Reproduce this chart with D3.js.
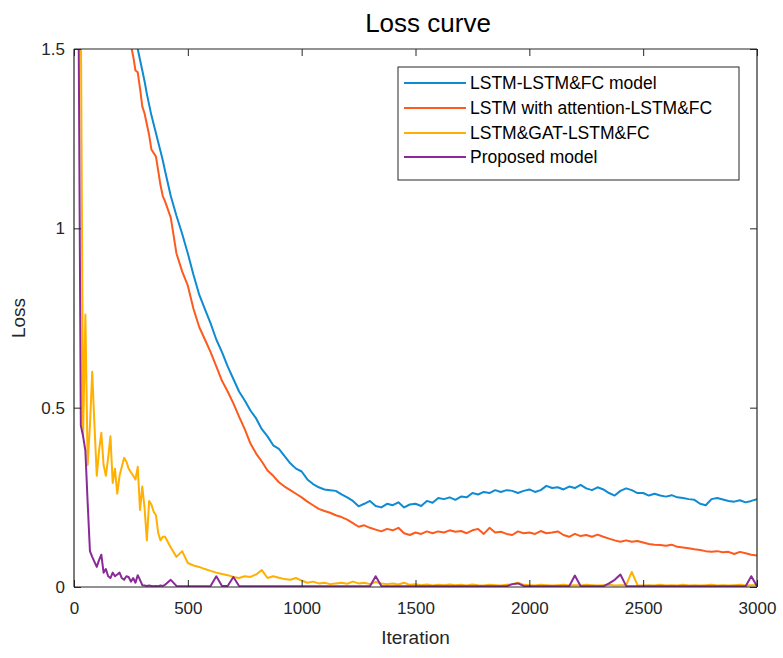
<!DOCTYPE html>
<html>
<head>
<meta charset="utf-8">
<script src="https://cdn.jsdelivr.net/npm/d3@7"></script>
<style>
  html, body { margin: 0; padding: 0; background: #fff; }
  svg { display: block; font-family: "Liberation Sans", Arial, Helvetica, sans-serif; }
</style>
</head>
<body>
<svg id="chart" width="783" height="658"></svg>
<script>
const iterations = [
  0,10,20,30,40,50,60,70,80,90,100,110,120,130,140,150,160,170,180,190,
  200,210,220,230,240,250,260,270,280,290,300,310,320,330,340,350,360,370,380,390,400,
  425,450,475,500,525,550,575,600,625,650,
  675,700,725,750,775,800,825,850,875,900,
  925,950,975,1000,1025,1050,1075,1100,1125,1150,
  1175,1200,1225,1250,1275,1300,1325,1350,1375,1400,
  1425,1450,1475,1500,1525,1550,1575,1600,1625,1650,
  1675,1700,1725,1750,1775,1800,1825,1850,1875,1900,
  1925,1950,1975,2000,2025,2050,2075,2100,2125,2150,
  2175,2200,2225,2250,2275,2300,2325,2350,2375,2400,
  2425,2450,2475,2500,2525,2550,2575,2600,2625,2650,
  2675,2700,2725,2750,2775,2800,2825,2850,2875,2900,
  2925,2950,2975,3000
];

const lossLSTM = [
  2.25,2.22,2.20,2.17,2.14,2.11,2.08,2.06,2.03,2.00,
  1.97,1.94,1.91,1.88,1.85,1.82,1.79,1.76,1.73,1.71,
  1.68,1.66,1.63,1.61,1.58,1.56,1.54,1.52,1.50,1.47,
  1.44,1.41,1.375,1.345,1.315,1.29,1.265,1.24,1.215,1.19,
  1.16,
  1.09,1.035,0.985,0.93,0.87,0.815,0.775,0.735,0.69,0.655,
  0.615,0.58,0.545,0.52,0.492,0.47,0.44,0.42,0.395,0.385,
  0.365,0.345,0.33,0.322,0.30,0.287,0.278,0.272,0.27,0.268,
  0.258,0.25,0.24,0.225,0.232,0.24,0.226,0.222,0.232,0.228,
  0.236,0.222,0.23,0.232,0.226,0.24,0.235,0.248,0.245,0.25,
  0.243,0.252,0.25,0.262,0.258,0.265,0.262,0.27,0.265,0.27,
  0.268,0.262,0.268,0.272,0.265,0.27,0.282,0.276,0.278,0.272,
  0.28,0.276,0.285,0.275,0.27,0.278,0.272,0.262,0.255,0.268,
  0.275,0.27,0.262,0.262,0.255,0.26,0.255,0.252,0.256,0.25,
  0.248,0.245,0.243,0.232,0.228,0.245,0.248,0.244,0.24,0.238,
  0.242,0.236,0.24,0.245
];

const lossAttention = [
  2.10,2.07,2.04,2.01,1.98,1.95,1.92,1.89,1.86,1.83,
  1.80,1.78,1.75,1.72,1.70,1.67,1.65,1.63,1.61,1.59,
  1.58,1.57,1.56,1.54,1.53,1.51,1.48,1.44,1.435,1.39,
  1.34,1.32,1.29,1.26,1.22,1.21,1.20,1.16,1.12,1.09,
  1.075,
  1.03,0.93,0.88,0.84,0.775,0.725,0.69,0.655,0.615,0.575,
  0.545,0.512,0.475,0.44,0.40,0.372,0.35,0.325,0.31,0.292,
  0.28,0.27,0.26,0.25,0.238,0.228,0.218,0.212,0.207,0.2,
  0.195,0.188,0.178,0.168,0.172,0.165,0.16,0.155,0.162,0.158,
  0.165,0.15,0.145,0.152,0.148,0.155,0.15,0.155,0.152,0.158,
  0.154,0.156,0.15,0.158,0.162,0.148,0.165,0.152,0.154,0.148,
  0.145,0.155,0.15,0.152,0.148,0.156,0.15,0.152,0.155,0.145,
  0.14,0.148,0.142,0.145,0.14,0.146,0.14,0.135,0.13,0.126,
  0.13,0.126,0.128,0.124,0.12,0.118,0.117,0.115,0.118,0.112,
  0.11,0.108,0.105,0.103,0.1,0.098,0.1,0.097,0.098,0.092,
  0.098,0.094,0.09,0.088
];

const lossGAT = [
  3.0,2.6,2.1,1.6,0.42,0.76,0.34,0.45,0.60,0.45,
  0.31,0.38,0.43,0.34,0.31,0.36,0.42,0.29,0.33,0.26,
  0.31,0.335,0.36,0.35,0.33,0.32,0.31,0.30,0.335,0.215,
  0.28,0.22,0.13,0.24,0.23,0.21,0.20,0.15,0.13,0.14,
  0.14,
  0.11,0.084,0.10,0.067,0.06,0.056,0.05,0.045,0.04,0.036,
  0.033,0.028,0.025,0.03,0.028,0.035,0.047,0.025,0.03,0.026,
  0.022,0.02,0.025,0.018,0.012,0.015,0.01,0.012,0.008,0.01,
  0.012,0.009,0.015,0.01,0.012,0.008,0.014,0.01,0.008,0.01,
  0.007,0.012,0.006,0.008,0.005,0.007,0.004,0.006,0.005,0.007,
  0.005,0.006,0.004,0.007,0.005,0.004,0.006,0.005,0.004,0.006,
  0.008,0.012,0.006,0.005,0.004,0.006,0.005,0.004,0.005,0.006,
  0.004,0.005,0.004,0.006,0.005,0.004,0.005,0.006,0.004,0.005,
  0.005,0.042,0.005,0.004,0.005,0.004,0.006,0.004,0.005,0.004,
  0.006,0.004,0.005,0.004,0.005,0.006,0.004,0.005,0.004,0.005,
  0.006,0.004,0.005,0.005
];

const lossProposed = [
  3.0,2.2,1.6,0.45,0.42,0.38,0.235,0.10,0.084,0.07,
  0.056,0.075,0.09,0.04,0.05,0.03,0.025,0.04,0.03,0.035,
  0.04,0.025,0.02,0.03,0.028,0.015,0.025,0.012,0.033,0.02,
  0.005,0.004,0.003,0.004,0.003,0.002,0.003,0.002,0.004,0.003,
  0.006,
  0.02,0.003,0.002,0.002,0.002,0.002,0.002,0.003,0.03,0.003,
  0.003,0.028,0.003,0.002,0.002,0.002,0.002,0.002,0.002,0.002,
  0.002,0.002,0.002,0.002,0.002,0.002,0.002,0.002,0.002,0.002,
  0.002,0.002,0.002,0.002,0.002,0.002,0.03,0.003,0.002,0.002,
  0.002,0.002,0.002,0.002,0.002,0.002,0.002,0.002,0.002,0.002,
  0.002,0.002,0.002,0.002,0.002,0.002,0.002,0.002,0.002,0.002,
  0.008,0.01,0.003,0.002,0.002,0.002,0.002,0.002,0.002,0.002,
  0.002,0.032,0.003,0.002,0.002,0.002,0.002,0.01,0.02,0.035,
  0.003,0.002,0.002,0.002,0.002,0.002,0.002,0.002,0.002,0.002,
  0.002,0.002,0.002,0.002,0.002,0.002,0.002,0.002,0.002,0.002,
  0.002,0.002,0.03,0.002
];

const seriesNames = ["LSTM-LSTM&FC model", "LSTM with attention-LSTM&FC", "LSTM&GAT-LSTM&FC", "Proposed model"];
const seriesColors = ["#0e8bd3", "#fd5a1e", "#ffb000", "#8a2a98"];
const seriesValues = [lossLSTM, lossAttention, lossGAT, lossProposed];
const xTicks = [0, 500, 1000, 1500, 2000, 2500, 3000];
const yTicks = [0, 0.5, 1, 1.5];
const yTickLabels = ["0", "0.5", "1", "1.5"];

const svg = d3.select("#chart");
const m = { left: 74, right: 757, top: 49, bottom: 587 };
const x = d3.scaleLinear().domain([0, 3000]).range([m.left, m.right]);
const y = d3.scaleLinear().domain([0, 1.5]).range([m.bottom, m.top]);
const axisColor = "#262626";

svg.append("defs").append("clipPath").attr("id", "plotclip")
  .append("rect").attr("x", m.left).attr("y", m.top)
  .attr("width", m.right - m.left).attr("height", m.bottom - m.top);

// data lines
const line = d3.line().x(d => x(d[0])).y(d => y(d[1]));
const gLines = svg.append("g").attr("clip-path", "url(#plotclip)");
seriesValues.forEach((vals, i) => {
  const pts = iterations.map((it, k) => [it, vals[k]]);
  gLines.append("path").datum(pts)
    .attr("d", line)
    .attr("fill", "none")
    .attr("stroke", seriesColors[i])
    .attr("stroke-width", 2)
    .attr("stroke-linejoin", "round");
});

// axes
const tickLen = 7;
const xAxisB = d3.axisBottom(x).tickValues(xTicks).tickSize(tickLen).tickPadding(8).tickFormat(d3.format("d"));
const gxb = svg.append("g").attr("transform", `translate(0,${m.bottom})`).call(xAxisB);
gxb.selectAll(".tick line").attr("y2", -tickLen);
const gxt = svg.append("g").attr("transform", `translate(0,${m.top})`)
  .call(d3.axisTop(x).tickValues(xTicks).tickSize(-tickLen).tickFormat(""));
const yAxisL = d3.axisLeft(y).tickValues(yTicks).tickSize(-tickLen).tickPadding(9)
  .tickFormat((d, i) => yTickLabels[i]);
const gyl = svg.append("g").attr("transform", `translate(${m.left},0)`).call(yAxisL);
const gyr = svg.append("g").attr("transform", `translate(${m.right},0)`)
  .call(d3.axisRight(y).tickValues(yTicks).tickSize(-tickLen).tickFormat(""));

[gxb, gxt, gyl, gyr].forEach(g => {
  g.select(".domain").attr("stroke", axisColor).attr("stroke-width", 1.2);
  g.selectAll(".tick line").attr("stroke", axisColor).attr("stroke-width", 1);
  g.selectAll(".tick text").attr("fill", axisColor)
    .style("font-size", "17px").style("font-family", "'Liberation Sans', Arial, sans-serif");
});
gxb.select(".domain").attr("d", `M${m.left},0H${m.right}`);
gxt.select(".domain").attr("d", `M${m.left},0H${m.right}`);
gyl.select(".domain").attr("d", `M0,${m.bottom}V${m.top}`);
gyr.select(".domain").attr("d", `M0,${m.bottom}V${m.top}`);

// title and labels
svg.append("text").attr("x", 428).attr("y", 32)
  .attr("text-anchor", "middle").attr("fill", "#000")
  .style("font-size", "26px").text("Loss curve");
svg.append("text").attr("x", (m.left + m.right) / 2).attr("y", 644)
  .attr("text-anchor", "middle").attr("fill", axisColor)
  .style("font-size", "19px").text("Iteration");
svg.append("text").attr("transform", `translate(25,${(m.top + m.bottom) / 2}) rotate(-90)`)
  .attr("text-anchor", "middle").attr("fill", axisColor)
  .style("font-size", "19px").text("Loss");

// legend
const lg = { x: 398, y: 67, w: 341, h: 113 };
svg.append("rect").attr("x", lg.x).attr("y", lg.y).attr("width", lg.w).attr("height", lg.h)
  .attr("fill", "#fff").attr("stroke", axisColor).attr("stroke-width", 1);
const rowY = [83, 108, 133, 157];
seriesNames.forEach((name, i) => {
  svg.append("line").attr("x1", 404).attr("x2", 466).attr("y1", rowY[i]).attr("y2", rowY[i])
    .attr("stroke", seriesColors[i]).attr("stroke-width", 2);
  svg.append("text").attr("x", 470).attr("y", rowY[i]).attr("dy", "0.35em")
    .attr("fill", "#000").style("font-size", "17.5px").text(name);
});
</script>
</body>
</html>
